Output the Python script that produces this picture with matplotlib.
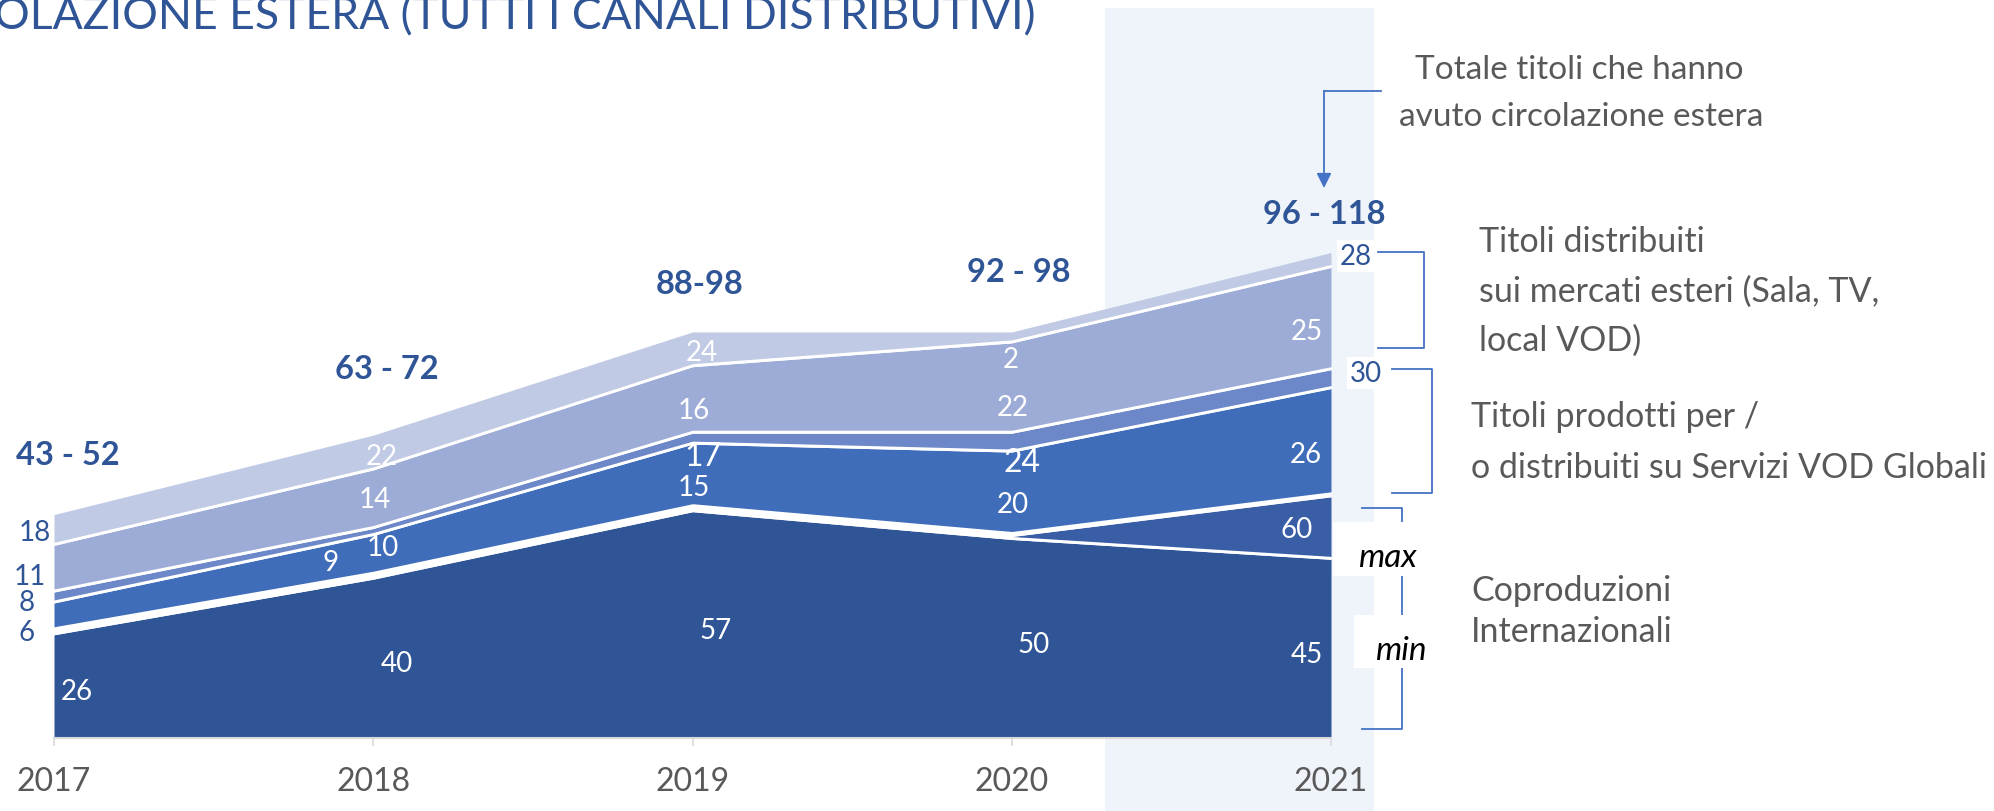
"""
Titoli con circolazione estera 2017-2021 — area impilata min/max
"""
import matplotlib
matplotlib.use('Agg')
import matplotlib.pyplot as plt
from matplotlib.patches import Rectangle, FancyArrowPatch
from matplotlib.lines import Line2D

plt.rcParams['font.family'] = ['Lato', 'DejaVu Sans']

# %% dati
years = [2017, 2018, 2019, 2020, 2021]
coprod_min = [26, 40, 57, 50, 45]
coprod_max = [26, 40, 57, 50, 60]
vod_min = [6, 9, 15, 20, 26]
vod_max = [8, 10, 17, 24, 30]
mercati_min = [11, 14, 16, 22, 25]
mercati_max = [18, 22, 24, 24, 28]
range_labels = ['43 - 52', '63 - 72', '88-98', '92 - 98', '96 - 118']

BLUE = '#2F5597'
GREY = '#595959'
LINE = '#4472C4'

W, H = 1994, 812
fig = plt.figure(figsize=(W / 100, H / 100), dpi=100)


def px(x, y):
    # pixel (dall'alto) -> frazione della figura
    return x / W, 1 - y / H


def ftext(x, y, s, **kw):
    kw.setdefault('ha', 'center')
    kw.setdefault('va', 'center')
    return fig.text(*px(x, y), s, **kw)


# colonna evidenziata 2021
fig.add_artist(Rectangle(px(1105, 812), 269 / W, 803 / H, transform=fig.transFigure,
                         facecolor='#EFF4FA', edgecolor='none', zorder=-1))

ppu = 3.97  # pixel per unità
ax = fig.add_axes([54 / W, 1 - 739 / H, (1331 - 54) / W, 130 * ppu / H])
ax.set_xlim(2017, 2021)
ax.set_ylim(0, 130)
ax.patch.set_alpha(0)

# %% aree impilate (con le righe bianche tra gli strati)
layers = [
    (coprod_min, '#2F5597', 0),
    ([b - a for a, b in zip(coprod_min, coprod_max)], '#3A5EA6', 3),
    (vod_min, '#3F6DBA', 5),
    ([b - a for a, b in zip(vod_min, vod_max)], '#6C88C8', 3),
    (mercati_min, '#9DACD6', 3),
    ([b - a for a, b in zip(mercati_min, mercati_max)], '#C0CAE4', 3),
]
base = [0] * len(years)
for vals, col, gap_px in layers:
    if gap_px:
        top = [b + gap_px / ppu for b in base]
        ax.fill_between(years, base, top, color='white', lw=0)
        base = top
    top = [b + v for b, v in zip(base, vals)]
    ax.fill_between(years, base, top, color=col, lw=0)
    base = top

for s in ['top', 'right', 'left']:
    ax.spines[s].set_visible(False)
ax.spines['bottom'].set_color('#D9D9D9')
ax.spines['bottom'].set_linewidth(1.5)
ax.set_yticks([])
ax.set_xticks(years)
ax.set_xticklabels([str(y) for y in years])
ax.tick_params(axis='x', length=6, width=1.2, color='#D9D9D9', labelsize=23,
               labelcolor=GREY, pad=14)

# %% etichette dei valori
white_labels = [
    ('26', 77, 692, 20), ('22', 382, 457, 20), ('14', 375, 500, 20), ('10', 383, 548, 20),
    ('9', 331, 563, 20), ('40', 397, 664, 20), ('24', 702, 353, 20), ('16', 694, 411, 20),
    ('17', 703, 457, 23), ('15', 694, 488, 20), ('57', 716, 631, 20), ('2', 1011, 360, 20),
    ('22', 1013, 408, 20), ('24', 1022, 463, 23), ('20', 1013, 505, 20), ('50', 1034, 645, 20),
    ('25', 1307, 332, 20), ('26', 1306, 455, 20), ('60', 1297, 530, 20), ('45', 1307, 655, 20),
]
for s, x, y, fs in white_labels:
    ftext(x, y, s, color='white', fontsize=fs)

for s, x, y in [('18', 35, 533), ('11', 30, 577), ('8', 27, 603), ('6', 27, 633)]:
    ftext(x, y, s, color=BLUE, fontsize=20)

for s, x, y in [('28', 1356, 257), ('30', 1366, 374)]:
    ftext(x, y, s, color=BLUE, fontsize=20,
          bbox=dict(facecolor='white', edgecolor='none', pad=2))

# totali min - max
for s, x, y in zip(range_labels, [68, 387, 700, 1019, 1324], [456, 370, 285, 272, 214]):
    ftext(x, y, s, color=BLUE, fontsize=23.5, fontweight='bold')

# %% titolo (tagliato in alto come nell'originale)
ftext(1035, 29, 'CIRCOLAZIONE ESTERA (TUTTI I CANALI DISTRIBUTIVI)', ha='right',
      va='baseline', color=BLUE, fontsize=32)

# %% freccia del totale
fig.add_artist(Line2D([1381 / W, 1324 / W], [1 - 92 / H, 1 - 92 / H], color=LINE, lw=1.3))
fig.add_artist(FancyArrowPatch(px(1324, 92), px(1324, 189), transform=fig.transFigure,
                               arrowstyle='-|>', mutation_scale=22, color=LINE, lw=1.3,
                               shrinkA=0, shrinkB=0))
ftext(1415, 70, 'Totale titoli che hanno', ha='left', color=GREY, fontsize=24)
ftext(1399, 117, 'avuto circolazione estera', ha='left', color=GREY, fontsize=24)


# %% parentesi e descrizioni a destra
def bracket(x0, x1, y0, y1):
    fig.add_artist(Line2D([x0 / W, x1 / W, x1 / W, x0 / W],
                          [1 - y0 / H, 1 - y0 / H, 1 - y1 / H, 1 - y1 / H],
                          color=LINE, lw=1.3, zorder=2))


bracket(1378, 1424, 253, 349)
bracket(1392, 1432, 370, 494)
bracket(1362, 1402, 509, 730)

fig.add_artist(Rectangle(px(1333, 577), 90 / W, 54 / H, transform=fig.transFigure,
                         facecolor='white', edgecolor='none', zorder=3))
fig.add_artist(Rectangle(px(1354, 669), 70 / W, 53 / H, transform=fig.transFigure,
                         facecolor='white', edgecolor='none', zorder=3))
ftext(1387, 558, 'max', color='black', fontsize=24, style='italic', zorder=4)
ftext(1401, 651, 'min', color='black', fontsize=24, style='italic', zorder=4)

right_text = [
    ('Titoli distribuiti', 1479, 242), ('sui mercati esteri (Sala, TV,', 1479, 292),
    ('local VOD)', 1479, 341), ('Titoli prodotti per /', 1471, 417),
    ('o distribuiti su Servizi VOD Globali', 1471, 468), ('Coproduzioni', 1471, 591),
    ('Internazionali', 1471, 632),
]
for s, x, y in right_text:
    ftext(x, y, s, ha='left', color=GREY, fontsize=24.5)

fig.savefig('out.png', dpi=100)
